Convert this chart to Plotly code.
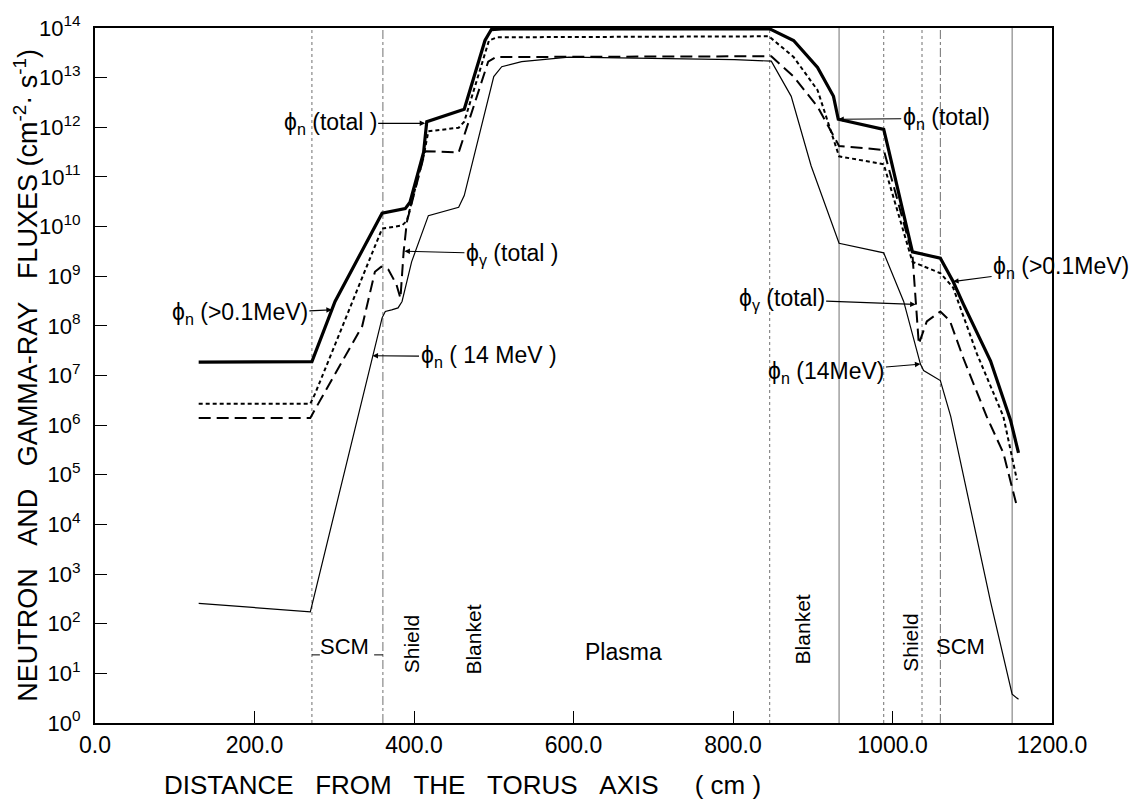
import math
import plotly.graph_objects as go

# ---- flux profiles across the torus (distance in cm, flux in cm^-2 s^-1) ----
x_n_total = [130, 272, 301, 360, 389, 395, 412, 416, 463, 468, 489, 497, 510,
             846, 876, 906, 926, 932, 989, 995, 1025, 1060, 1076, 1089, 1123, 1148, 1158]
flux_n_total = [1.86e7, 1.9e7, 3.1e8, 1.86e10, 2.3e10, 3.1e10, 3.1e11, 1.3e12, 2.3e12, 4.2e12,
                5.6e13, 9.3e13, 9.6e13, 9.6e13, 5.6e13, 1.6e13, 4.2e12, 1.45e12, 9.1e11, 3.6e11,
                3.1e9, 2.3e9, 7.8e8, 2.7e8, 1.95e7, 1.26e6, 2.75e5]

x_n_fast = [130, 270, 276, 360, 385, 391, 412, 418, 456, 463, 494, 504,
            845, 876, 906, 933, 989, 1025, 1060, 1076, 1106, 1139, 1156]
flux_n_fast = [2.7e6, 2.7e6, 4.3e6, 9.1e9, 1.05e10, 1.3e10, 2.6e11, 8.3e11, 9.8e11, 1.3e12,
               5.6e13, 6.5e13, 6.8e13, 2.6e13, 5.6e12, 2.6e11, 1.8e11, 1.95e9, 1.15e9, 5.9e8,
               2.7e7, 1.5e6, 7.9e4]

x_gamma = [130, 270, 287, 335, 351, 359, 368, 378, 383, 387, 391, 412, 414, 456, 493, 503,
           848, 876, 906, 933, 989, 1025, 1033, 1043, 1060, 1072, 1089, 1118, 1139, 1156]
flux_gamma = [1.4e6, 1.4e6, 4.3e6, 9.8e7, 1.23e9, 1.55e9, 1.35e9, 6.8e8, 3.6e8, 3.1e9, 1.23e10,
              2.6e11, 3.3e11, 3.1e11, 2.1e13, 2.6e13, 2.7e13, 1.05e13, 2.6e12, 4.2e11, 3.5e11,
              2.7e9, 4.3e7, 1.23e8, 1.95e8, 1.26e8, 2.2e7, 1.5e6, 2.75e5, 2.3e4]

x_n14 = [130, 270, 360, 364, 372, 380, 385, 397, 418, 456, 463, 500, 510, 535, 594, 802,
         848, 873, 898, 933, 989, 1014, 1035, 1039, 1060, 1073, 1123, 1150, 1158]
flux_n14 = [257, 174, 1.45e8, 1.95e8, 2.1e8, 2.3e8, 3.1e8, 1.95e9, 1.66e10, 2.45e10, 4.2e10,
            1.05e13, 1.66e13, 2.1e13, 2.6e13, 2.3e13, 2.15e13, 4.2e12, 1.66e11, 4.6e9, 2.95e9,
            3.1e8, 1.7e7, 1.26e7, 7.9e6, 1.5e6, 275, 3.8, 3.0]

# region boundaries (cm) and their line styles
boundaries = [272, 361, 846, 933, 989, 1037, 1060, 1150]
boundary_dash = ["dot", "dashdot", "dot", "solid", "dot", "dot", "dashdot", "solid"]

x_ticks = [0, 200, 400, 600, 800, 1000, 1200]
x_tick_labels = ["0.0", "200.0", "400.0", "600.0", "800.0", "1000.0", "1200.0"]
y_exponents = list(range(0, 15))

FONT = "Liberation Sans, Arial, sans-serif"
nb = "\u00a0"
phi = "\u03d5"

fig = go.Figure()

for xb, ds in zip(boundaries, boundary_dash):
    fig.add_shape(type="line", x0=xb, x1=xb, y0=0, y1=1, xref="x", yref="paper",
                  line=dict(color="#707070", width=1, dash=ds), layer="below")

fig.add_trace(go.Scatter(x=x_n14, y=flux_n14, mode="lines",
                         line=dict(color="black", width=1.2)))
fig.add_trace(go.Scatter(x=x_gamma, y=flux_gamma, mode="lines",
                         line=dict(color="black", width=2, dash="12px,6px")))
fig.add_trace(go.Scatter(x=x_n_fast, y=flux_n_fast, mode="lines",
                         line=dict(color="black", width=2, dash="4px,3px")))
fig.add_trace(go.Scatter(x=x_n_total, y=flux_n_total, mode="lines",
                         line=dict(color="black", width=3.2)))

curve_labels = [
    # text, target x, target flux, text offset (px)
    (f"{phi}<sub>n</sub> (total )", 414, 1.2e12, -95, 0),
    (f"{phi}<sub>\u03b3</sub> (total )", 388, 3.2e9, 108, 3),
    (f"{phi}<sub>n</sub> (>0.1MeV)", 297, 2.1e8, -92, 4),
    (f"{phi}<sub>n</sub> ( 14 MeV )", 348, 2.5e7, 116, 1),
    (f"{phi}<sub>n</sub> (total)", 932, 1.45e12, 108, -1),
    (f"{phi}<sub>n</sub> (>0.1MeV)", 1076, 7.8e8, 108, -14),
    (f"{phi}<sub>\u03b3</sub> (total)", 1029, 2.7e8, -134, -5),
    (f"{phi}<sub>n</sub> (14MeV)", 1035, 1.7e7, -94, 8),
]
for text, xt, yt, ax, ay in curve_labels:
    fig.add_annotation(x=xt, y=math.log10(yt), xref="x", yref="y", text=text,
                       showarrow=True, ax=ax, ay=ay, arrowhead=2, arrowsize=1,
                       arrowwidth=1.1, arrowcolor="black", standoff=0,
                       font=dict(family=FONT, size=23, color="black"))

region_labels = [
    ("SCM", 0.261, 0.110, 0, 22),
    ("Shield", 0.331, 0.113, -90, 21),
    ("Blanket", 0.396, 0.120, -90, 21),
    ("Plasma", 0.552, 0.102, 0, 23),
    ("Blanket", 0.739, 0.135, -90, 21),
    ("Shield", 0.852, 0.116, -90, 21),
    ("SCM", 0.904, 0.110, 0, 22),
]
for text, px, py, ang, size in region_labels:
    fig.add_annotation(x=px, y=py, xref="paper", yref="paper", text=text, showarrow=False,
                       textangle=ang, xanchor="center", yanchor="middle",
                       font=dict(family=FONT, size=size, color="black"))

# small bracket marks around the inboard magnet label
for x0, x1 in [(272, 282), (350, 361)]:
    fig.add_shape(type="line", x0=x0, x1=x1, y0=0.098, y1=0.098, xref="x", yref="paper",
                  line=dict(color="black", width=1))

fig.add_annotation(x=0.384, y=-0.089, xref="paper", yref="paper", showarrow=False,
                   text=f"DISTANCE{nb*3}FROM{nb*3}THE{nb*3}TORUS{nb*3}AXIS{nb*5}({nb}cm{nb})",
                   xanchor="center", yanchor="middle",
                   font=dict(family=FONT, size=26, color="black"))
fig.add_annotation(x=-0.073, y=0.50, xref="paper", yref="paper", showarrow=False,
                   text=f"NEUTRON{nb*3}AND{nb*3}GAMMA-RAY{nb*3}FLUXES{nb}(cm<sup>-2</sup>\u00b7{nb}s<sup>-1</sup>)",
                   textangle=-90, xanchor="center", yanchor="middle",
                   font=dict(family=FONT, size=27, color="black"))

fig.update_xaxes(range=[0, 1200], tickvals=x_ticks, ticktext=x_tick_labels,
                 ticks="inside", ticklen=12, tickwidth=1, tickcolor="black",
                 showline=True, linewidth=2, linecolor="black", mirror=True,
                 showgrid=False, zeroline=False,
                 tickfont=dict(family=FONT, size=23, color="black"))
fig.update_yaxes(type="log", range=[0, 14],
                 tickvals=[10 ** k for k in y_exponents],
                 ticktext=[f"10<sup>{k}</sup>" for k in y_exponents],
                 ticks="inside", ticklen=12, tickwidth=1, tickcolor="black",
                 showline=True, linewidth=2, linecolor="black", mirror=True,
                 showgrid=False, zeroline=False, ticklabelstandoff=8,
                 tickfont=dict(family=FONT, size=22, color="black"))

fig.update_layout(width=1147, height=803, showlegend=False,
                  margin=dict(l=95, r=95, t=21, b=80),
                  plot_bgcolor="white", paper_bgcolor="white",
                  font=dict(family=FONT, color="black"))

fig.write_html("out.html")
